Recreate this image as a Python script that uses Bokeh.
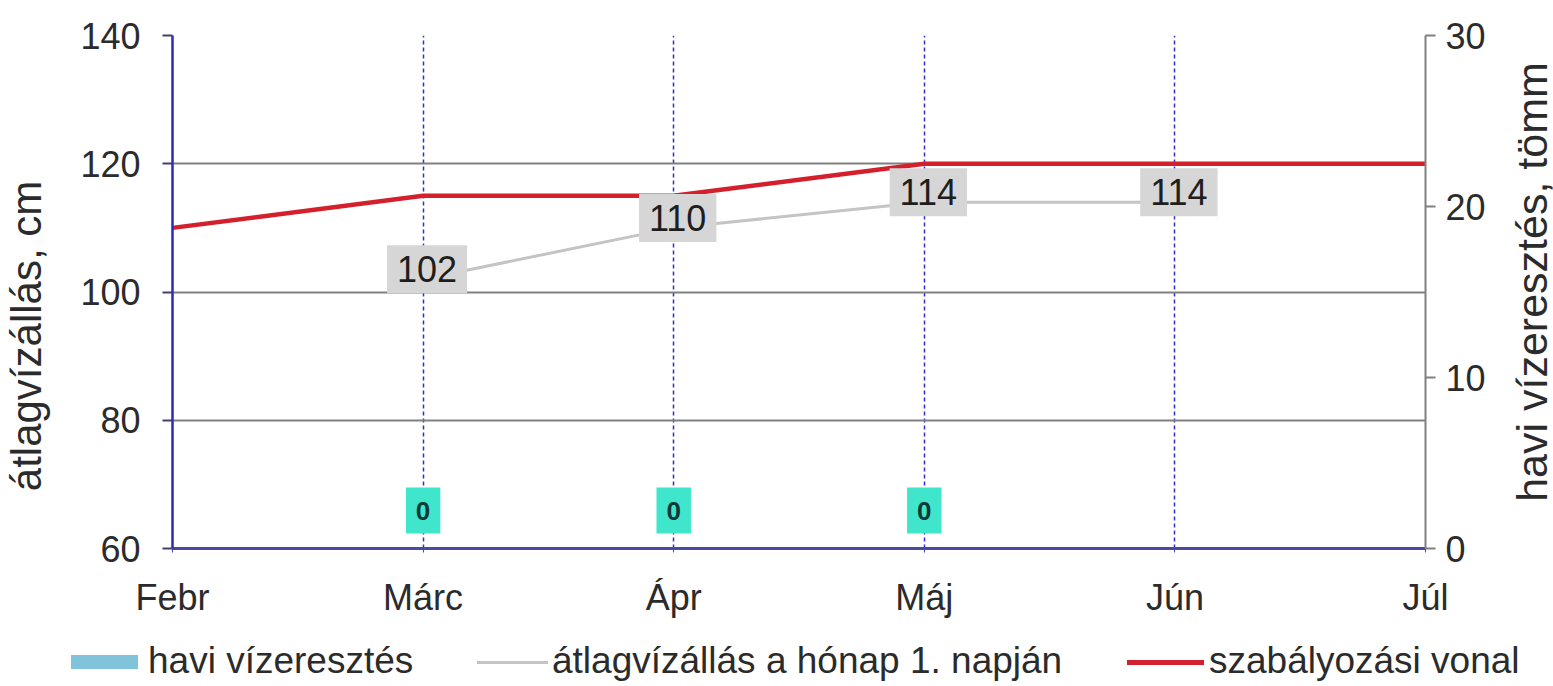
from bokeh.plotting import figure
from bokeh.models import Range1d, LinearAxis, FixedTicker, ColumnDataSource, Div
from bokeh.layouts import column, row
from bokeh.core.properties import value
from bokeh.embed import file_html
from bokeh.resources import INLINE

# ---- data ----
months = ["Febr", "Márc", "Ápr", "Máj", "Jún", "Júl"]
reg_line = [110, 115, 115, 120, 120, 120]            # szabályozási vonal
avg_months = ["Márc", "Ápr", "Máj", "Jún"]
avg_level = [102, 110, 114, 114]                     # átlagvízállás a hónap 1. napján
rel_months = ["Márc", "Ápr", "Máj"]
release = [0, 0, 0]                                  # havi vízeresztés
left_ticks = [60, 80, 100, 120, 140]
right_ticks = [0, 10, 20, 30]
left_title = "átlagvízállás, cm"
right_title = "havi vízeresztés, tömm"
legend_labels = ["havi vízeresztés", "átlagvízállás a hónap 1. napján", "szabályozási vonal"]

FONT = "Liberation Sans"
TXT = "#2b2b2b"
BAR_C = "#80c4dc"
AVG_C = "#c4c4c4"
REG_C = "#d4202c"

LEFT_W, RIGHT_W, PLOT_H, LEG_H = 60, 38, 620, 66
idx = {m: i for i, m in enumerate(months)}

p = figure(width=1553 - LEFT_W - RIGHT_W, height=PLOT_H, output_backend="svg",
           toolbar_location=None,
           x_range=Range1d(0, len(months) - 1), y_range=Range1d(60, 140),
           min_border_left=172 - LEFT_W, min_border_right=1553 - RIGHT_W - 1425,
           min_border_top=35, min_border_bottom=70)
p.extra_y_ranges = {"right": Range1d(0, 30)}
p.outline_line_color = None
p.background_fill_color = "white"

# grids
p.ygrid.ticker = FixedTicker(ticks=[80, 100, 120, 140])
p.ygrid.grid_line_color = "#808080"
p.ygrid.grid_line_width = 2
p.xgrid.ticker = FixedTicker(ticks=[1, 2, 3, 4])
p.xgrid.grid_line_color = "#3030c8"
p.xgrid.grid_line_width = 1.5
p.xgrid.grid_line_dash = "4 3"

# x axis
xa = p.xaxis[0]
xa.ticker = FixedTicker(ticks=list(range(len(months))))
xa.major_label_overrides = {i: m for i, m in enumerate(months)}
xa.axis_line_color = "#4a4aa0"
xa.axis_line_width = 3
xa.major_tick_line_color = "#4a4aa0"
xa.major_tick_in = 0
xa.major_tick_out = 4
xa.minor_tick_line_color = None
xa.major_label_standoff = 24
xa.major_label_text_font = FONT
xa.major_label_text_font_size = "36px"
xa.major_label_text_color = TXT

# left axis
ya = p.yaxis[0]
ya.ticker = FixedTicker(ticks=left_ticks)
ya.axis_line_color = "#2a2ac0"
ya.axis_line_width = 2.5
ya.major_tick_line_color = "#404070"
ya.major_tick_line_width = 2
ya.major_tick_in = 0
ya.major_tick_out = 10
ya.minor_tick_line_color = None
ya.major_label_standoff = 22
ya.major_label_text_font = FONT
ya.major_label_text_font_size = "36px"
ya.major_label_text_color = TXT

# right axis
ra = LinearAxis(y_range_name="right", ticker=FixedTicker(ticks=right_ticks))
ra.axis_line_color = "#808080"
ra.axis_line_width = 2
ra.major_tick_line_color = "#808080"
ra.major_tick_line_width = 2
ra.major_tick_in = 0
ra.major_tick_out = 10
ra.minor_tick_line_color = None
ra.major_label_standoff = 10
ra.major_label_text_font = FONT
ra.major_label_text_font_size = "36px"
ra.major_label_text_color = TXT
p.add_layout(ra, "right")

# bars (all zero)
bar_src = ColumnDataSource(dict(x=[idx[m] for m in rel_months], top=release,
                                lab=[str(v) for v in release]))
p.vbar(x="x", top="top", bottom=0, width=0.6, source=bar_src, y_range_name="right",
       fill_color=BAR_C, line_color=None)

# lines
reg_src = ColumnDataSource(dict(x=list(range(len(months))), y=reg_line))
p.line("x", "y", source=reg_src, line_color=REG_C, line_width=4.5)
avg_src = ColumnDataSource(dict(x=[idx[m] for m in avg_months], y=avg_level,
                                lab=[str(v) for v in avg_level]))
p.line("x", "y", source=avg_src, line_color=AVG_C, line_width=3)

# labels on the average line
p.text("x", "y", text="lab", source=avg_src, text_align="center", text_baseline="middle",
       text_font=value(FONT), text_font_size="36px", text_color="#1e1e1e",
       y_offset=-10, x_offset=4, background_fill_color="#d6d6d6",
       padding=dict(left=10, right=10, top=11, bottom=11))

# labels of the bars
p.text("x", "top", text="lab", source=bar_src, y_range_name="right",
       text_align="center", text_baseline="middle",
       text_font=value(FONT), text_font_size="26px", text_font_style="bold",
       text_color="#0f3838", y_offset=-38, background_fill_color="#3fe6cc",
       padding=dict(left=10, right=10, top=14, bottom=14))


# ---- rotated axis titles (reading bottom to top) ----
def rotated_title(text, w, h, cx, cy, size):
    html = (f'<div style="position:relative;width:{w}px;height:{h}px;">'
            f'<span style="position:absolute;left:{cx}px;top:{cy}px;white-space:nowrap;'
            f'font-family:\'{FONT}\';font-size:{size}px;line-height:1;color:{TXT};'
            f'transform:translate(-50%,-50%) rotate(-90deg);">{text}</span></div>')
    return Div(text=html, width=w, height=h, margin=(0, 0, 0, 0))


left_div = rotated_title(left_title, LEFT_W, PLOT_H, 27, 336, 42)
right_div = rotated_title(right_title, RIGHT_W, PLOT_H, 17, 282, 43)

# ---- legend strip below the chart ----
swatches = [
    (71, 67, 14, BAR_C, 148),
    (477, 71, 3, AVG_C, 552),
    (1127, 77, 5, REG_C, 1209),
]
parts = []
for (sx, sw, sh, col, tx), lab in zip(swatches, legend_labels):
    parts.append(f'<span style="position:absolute;left:{sx}px;top:{42 - sh // 2}px;'
                 f'width:{sw}px;height:{sh}px;background:{col};"></span>')
    parts.append(f'<span style="position:absolute;left:{tx}px;top:20px;line-height:42px;'
                 f'white-space:nowrap;">{lab}</span>')
html = (f'<div style="position:relative;width:1553px;height:{LEG_H}px;'
        f'font-family:\'{FONT}\';font-size:37px;color:{TXT};">' + "".join(parts) + '</div>')
leg = Div(text=html, width=1553, height=LEG_H, margin=(0, 0, 0, 0))

layout = column(row(left_div, p, right_div, spacing=0), leg, spacing=0)
open("out.html", "w").write(file_html(layout, INLINE))
